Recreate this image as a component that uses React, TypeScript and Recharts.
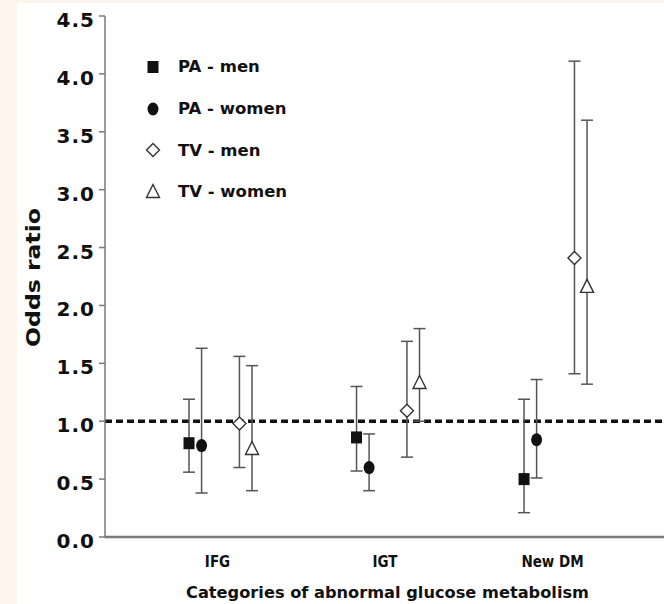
import { ErrorBar, Label, Legend, ReferenceLine, Scatter, ScatterChart, XAxis, YAxis } from 'recharts'

const CATEGORIES = ['IFG', 'IGT', 'New DM']
const Y_TICKS = [0, 0.5, 1, 1.5, 2, 2.5, 3, 3.5, 4, 4.5]
const REFERENCE_OR = 1

const PA_MEN_OR = [0.81, 0.86, 0.5]
const PA_MEN_LO = [0.56, 0.57, 0.21]
const PA_MEN_HI = [1.19, 1.3, 1.19]

const PA_WOMEN_OR = [0.79, 0.6, 0.84]
const PA_WOMEN_LO = [0.38, 0.4, 0.51]
const PA_WOMEN_HI = [1.63, 0.89, 1.36]

const TV_MEN_OR = [0.98, 1.09, 2.41]
const TV_MEN_LO = [0.6, 0.69, 1.41]
const TV_MEN_HI = [1.56, 1.69, 4.11]

const TV_WOMEN_OR = [0.76, 1.33, 2.16]
const TV_WOMEN_LO = [0.4, 1.0, 1.32]
const TV_WOMEN_HI = [1.48, 1.8, 3.6]

type MarkerKind = 'square' | 'circle' | 'diamond' | 'triangle'

// horizontal dodge of each series inside its category (axis units)
const DODGE: Record<MarkerKind, number> = {
  square: -0.188,
  circle: -0.113,
  diamond: 0.113,
  triangle: 0.188,
}

const SERIES: { name: string; or: number[]; lo: number[]; hi: number[]; marker: MarkerKind }[] = [
  { name: 'PA - men', or: PA_MEN_OR, lo: PA_MEN_LO, hi: PA_MEN_HI, marker: 'square' },
  { name: 'PA - women', or: PA_WOMEN_OR, lo: PA_WOMEN_LO, hi: PA_WOMEN_HI, marker: 'circle' },
  { name: 'TV - men', or: TV_MEN_OR, lo: TV_MEN_LO, hi: TV_MEN_HI, marker: 'diamond' },
  { name: 'TV - women', or: TV_WOMEN_OR, lo: TV_WOMEN_LO, hi: TV_WOMEN_HI, marker: 'triangle' },
]

const buildPoints = (s: (typeof SERIES)[number]) =>
  CATEGORIES.map((_, i) => ({
    x: i + 1 + DODGE[s.marker],
    y: s.or[i],
    err: [s.or[i] - s.lo[i], s.hi[i] - s.or[i]],
  }))

const FONT = "'DejaVu Sans', Verdana, sans-serif"
const INK = '#111'
const AXIS_GREY = '#7a7a7a'

function Marker({ cx, cy, kind }: { cx?: number; cy?: number; kind: MarkerKind }) {
  if (cx == null || cy == null) return null
  switch (kind) {
    case 'square':
      return <rect x={cx - 5.5} y={cy - 6} width={11} height={12} fill={INK} />
    case 'circle':
      return <ellipse cx={cx} cy={cy} rx={5.5} ry={6.5} fill={INK} />
    case 'diamond':
      return (
        <path
          d={`M${cx},${cy - 6.5}L${cx + 6.5},${cy}L${cx},${cy + 6.5}L${cx - 6.5},${cy}Z`}
          fill="#fff"
          stroke="#333"
          strokeWidth={1.4}
        />
      )
    default:
      return (
        <path
          d={`M${cx},${cy - 7.5}L${cx + 6.5},${cy + 5.5}L${cx - 6.5},${cy + 5.5}Z`}
          fill="#fff"
          stroke="#333"
          strokeWidth={1.4}
        />
      )
  }
}

const YTick = ({ x, y, payload }: any) => (
  <text x={x} y={y + 11} textAnchor="end" fill={INK} fontFamily={FONT} fontWeight="bold" fontSize={20} letterSpacing={1}>
    {Number(payload.value).toFixed(1)}
  </text>
)

const XTick = ({ x, y, payload }: any) => (
  <text
    x={x - 3}
    y={y + 30}
    textAnchor="middle"
    fill={INK}
    fontFamily="'DejaVu Sans Condensed', 'DejaVu Sans', sans-serif"
    fontWeight="bold"
    fontSize={15}
  >
    {CATEGORIES[Math.round(payload.value) - 1]}
  </text>
)

const YTitle = () => (
  <text
    x={33}
    y={277.5}
    transform="rotate(-90 33 277.5)"
    textAnchor="middle"
    dominantBaseline="central"
    fill={INK}
    fontFamily={FONT}
    fontWeight="bold"
    fontSize={20}
    textLength={139}
    lengthAdjust="spacingAndGlyphs"
  >
    Odds ratio
  </text>
)

const XTitle = () => (
  <text
    x={387.5}
    y={598}
    textAnchor="middle"
    fill={INK}
    fontFamily={FONT}
    fontWeight="bold"
    fontSize={16.5}
    textLength={403}
    lengthAdjust="spacingAndGlyphs"
  >
    Categories of abnormal glucose metabolism
  </text>
)

const renderLegend = () => (
  <div style={{ display: 'flex', flexDirection: 'column' }}>
    {SERIES.map((s) => (
      <div key={s.name} style={{ height: 41.7, display: 'flex', alignItems: 'center' }}>
        <svg width={16} height={16} style={{ overflow: 'visible' }}>
          <Marker cx={8} cy={8} kind={s.marker} />
        </svg>
        <span
          style={{
            marginLeft: 17,
            fontFamily: FONT,
            fontWeight: 'bold',
            fontSize: 16.5,
            color: INK,
            whiteSpace: 'nowrap',
          }}
        >
          {s.name}
        </span>
      </div>
    ))}
  </div>
)

export default function App() {
  return (
    <div
      style={{
        position: 'absolute',
        left: 0,
        top: 0,
        width: 664,
        height: 604,
        overflow: 'hidden',
        background: '#fdf4ec',
      }}
    >
      <div style={{ position: 'absolute', left: 17, top: 3, right: 0, bottom: 0, background: '#fff' }} />
      <div style={{ position: 'absolute', left: 0, top: 0 }}>
        <ScatterChart width={680} height={604} margin={{ top: 16, right: 0, bottom: 0, left: 10 }}>
          <XAxis
            type="number"
            dataKey="x"
            domain={[0.3104, 3.743]}
            ticks={[1, 2, 3]}
            allowDataOverflow
            height={67}
            tickLine={false}
            tickSize={0}
            tickMargin={0}
            tick={<XTick />}
            axisLine={{ stroke: AXIS_GREY, strokeWidth: 2.5 }}
          >
            <Label content={<XTitle />} />
          </XAxis>
          <YAxis
            type="number"
            dataKey="y"
            domain={[0, 4.5]}
            ticks={Y_TICKS}
            width={95}
            tickSize={6}
            tickMargin={4}
            tick={<YTick />}
            tickLine={{ stroke: AXIS_GREY, strokeWidth: 1.5 }}
            axisLine={{ stroke: AXIS_GREY, strokeWidth: 1.5 }}
          >
            <Label content={<YTitle />} />
          </YAxis>
          <ReferenceLine y={REFERENCE_OR} stroke={INK} strokeWidth={3.5} strokeDasharray="7 4" />
          <Legend
            layout="vertical"
            align="center"
            verticalAlign="middle"
            content={renderLegend}
            wrapperStyle={{ left: 145, top: 46, width: 'auto' }}
          />
          {SERIES.map((s) => (
            <Scatter
              key={s.name}
              name={s.name}
              data={buildPoints(s)}
              isAnimationActive={false}
              shape={(props: any) => <Marker cx={props.cx} cy={props.cy} kind={s.marker} />}
            >
              <ErrorBar dataKey="err" direction="y" width={6} stroke="#555" strokeWidth={1.5} isAnimationActive={false} />
            </Scatter>
          ))}
        </ScatterChart>
      </div>
    </div>
  )
}
